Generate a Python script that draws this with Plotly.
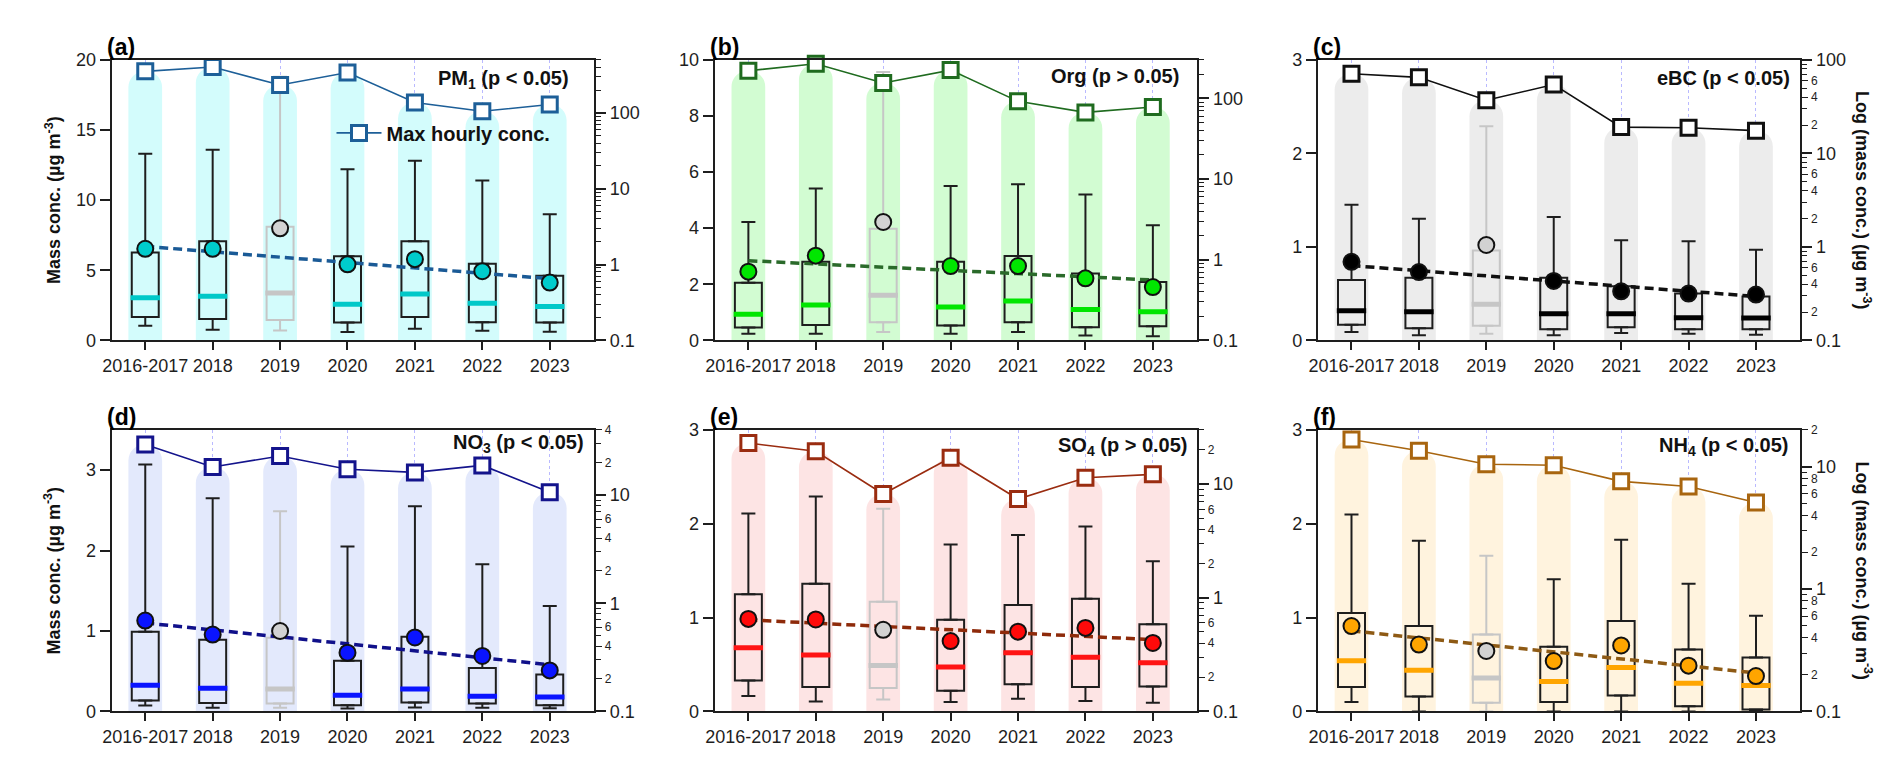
import math
import plotly.graph_objects as go

W, H = 1892, 766
FONT = "Liberation Sans, Arial, sans-serif"
INK = "#1e1e1e"

cats = ["2016-2017", "2018", "2019", "2020", "2021", "2022", "2023"]

# ---- (a) PM1 ----
pm1_whi = [13.3, 13.6, 18.8, 12.2, 12.8, 11.4, 9.0]
pm1_q75 = [6.27, 7.06, 8.1, 5.99, 7.06, 5.46, 4.6]
pm1_med = [3.03, 3.15, 3.38, 2.57, 3.31, 2.64, 2.41]
pm1_q25 = [1.67, 1.53, 1.46, 1.27, 1.67, 1.30, 1.27]
pm1_wlo = [1.04, 0.76, 0.70, 0.60, 0.83, 0.69, 0.62]
pm1_mean = [6.53, 6.53, 7.99, 5.42, 5.79, 4.93, 4.12]
pm1_max = [353, 402, 233, 341, 137, 105, 129]
pm1_trend = [6.7, 4.4]

# ---- (b) Org ----
org_whi = [4.22, 5.41, 9.57, 5.50, 5.57, 5.20, 4.10]
org_q75 = [2.05, 2.80, 3.98, 2.80, 3.01, 2.38, 2.08]
org_med = [0.93, 1.26, 1.61, 1.19, 1.40, 1.10, 1.02]
org_q25 = [0.46, 0.55, 0.65, 0.53, 0.65, 0.47, 0.50]
org_wlo = [0.24, 0.24, 0.30, 0.24, 0.30, 0.17, 0.15]
org_mean = [2.45, 3.02, 4.22, 2.65, 2.65, 2.21, 1.90]
org_max = [220, 269, 155, 224, 92, 67, 78]
org_trend = [2.84, 2.15]

# ---- (c) eBC ----
ebc_whi = [1.45, 1.30, 2.29, 1.32, 1.07, 1.06, 0.97]
ebc_q75 = [0.646, 0.67, 0.96, 0.67, 0.58, 0.50, 0.47]
ebc_med = [0.316, 0.305, 0.385, 0.285, 0.285, 0.243, 0.24]
ebc_q25 = [0.167, 0.13, 0.155, 0.12, 0.14, 0.12, 0.12]
ebc_wlo = [0.09, 0.055, 0.07, 0.055, 0.08, 0.07, 0.06]
ebc_mean = [0.84, 0.73, 1.02, 0.635, 0.524, 0.50, 0.49]
ebc_max = [71, 65, 37, 54.5, 19.1, 18.8, 17.5]
ebc_trend = [0.80, 0.47]

# ---- (d) NO3 ----
no3_whi = [3.07, 2.65, 2.49, 2.05, 2.55, 1.83, 1.31]
no3_q75 = [0.99, 0.89, 0.915, 0.63, 0.93, 0.54, 0.46]
no3_med = [0.324, 0.288, 0.28, 0.20, 0.28, 0.19, 0.18]
no3_q25 = [0.137, 0.105, 0.097, 0.077, 0.11, 0.097, 0.077]
no3_wlo = [0.073, 0.045, 0.045, 0.036, 0.049, 0.045, 0.04]
no3_mean = [1.13, 0.956, 1.00, 0.73, 0.92, 0.69, 0.51]
no3_max = [29.3, 18.2, 23.0, 17.3, 16.2, 18.8, 10.6]
no3_trend = [1.10, 0.58]

# ---- (e) SO4 ----
so4_whi = [2.11, 2.29, 2.16, 1.78, 1.88, 1.97, 1.60]
so4_q75 = [1.25, 1.36, 1.17, 0.976, 1.135, 1.20, 0.93]
so4_med = [0.678, 0.60, 0.49, 0.474, 0.626, 0.578, 0.52]
so4_q25 = [0.33, 0.26, 0.25, 0.22, 0.29, 0.26, 0.265]
so4_wlo = [0.163, 0.107, 0.128, 0.10, 0.135, 0.11, 0.093]
so4_mean = [0.986, 0.98, 0.87, 0.75, 0.85, 0.89, 0.73]
so4_max = [23.0, 19.5, 8.2, 17.1, 7.4, 11.4, 12.2]
so4_trend = [0.976, 0.765]

# ---- (f) NH4 ----
nh4_whi = [2.10, 1.82, 1.66, 1.41, 1.83, 1.36, 1.02]
nh4_q75 = [1.05, 0.91, 0.82, 0.69, 0.965, 0.66, 0.574]
nh4_med = [0.54, 0.44, 0.356, 0.32, 0.467, 0.30, 0.277]
nh4_q25 = [0.26, 0.16, 0.093, 0.10, 0.17, 0.055, 0.02]
nh4_wlo = [0.10, 0.0, 0.0, 0.0, 0.0, 0.0, 0.0]
nh4_mean = [0.91, 0.713, 0.644, 0.537, 0.703, 0.488, 0.377]
nh4_max = [16.7, 13.5, 10.5, 10.3, 7.6, 6.9, 5.1]
nh4_trend = [0.858, 0.41]

panel_labels = ["(a)", "(b)", "(c)", "(d)", "(e)", "(f)"]
panel_titles = ["PM<sub>1</sub> (p &lt; 0.05)", "Org (p &gt; 0.05)", "eBC (p &lt; 0.05)",
                "NO<sub>3</sub> (p &lt; 0.05)", "SO<sub>4</sub> (p &gt; 0.05)", "NH<sub>4</sub> (p &lt; 0.05)"]
left_ticks = [[0, 5, 10, 15, 20], [0, 2, 4, 6, 8, 10], [0, 1, 2, 3], [0, 1, 2, 3], [0, 1, 2, 3], [0, 1, 2, 3]]
left_max = [20, 10, 3, 3.5, 3, 3]
log_top = [500, 300, 100, 40, 30, 20]
minor_labelled = [[], [], [2, 4, 6], [2, 4, 6], [2, 4, 6], [2, 4, 6, 8]]
legend_name = "Max hourly conc."
special_year = "2019"

series = [
    (pm1_whi, pm1_q75, pm1_med, pm1_q25, pm1_wlo, pm1_mean, pm1_max, pm1_trend),
    (org_whi, org_q75, org_med, org_q25, org_wlo, org_mean, org_max, org_trend),
    (ebc_whi, ebc_q75, ebc_med, ebc_q25, ebc_wlo, ebc_mean, ebc_max, ebc_trend),
    (no3_whi, no3_q75, no3_med, no3_q25, no3_wlo, no3_mean, no3_max, no3_trend),
    (so4_whi, so4_q75, so4_med, so4_q25, so4_wlo, so4_mean, so4_max, so4_trend),
    (nh4_whi, nh4_q75, nh4_med, nh4_q25, nh4_wlo, nh4_mean, nh4_max, nh4_trend),
]

# styles
c_cloud = ["#d3fcfc", "#d2fcd2", "#ececec", "#e3e9fc", "#fde4e4", "#fff3de"]
c_mean = ["#00cccc", "#00e600", "#000000", "#0a14ff", "#ff0a0a", "#ffa500"]
c_med = ["#00c8c8", "#00e600", "#000000", "#0a14ff", "#ff1414", "#ffa500"]
c_max = ["#1d5f98", "#1f6b1f", "#101010", "#14148c", "#9a2c10", "#a8650f"]
c_trend = ["#1a5a96", "#2a6a2a", "#101010", "#10108a", "#8e2a0a", "#8e5a14"]
GRAY_LINE = "#c6c6c6"
GRAY_FILL = "#d2d2d2"

cols_px = [(95, 580), (701, 1186), (1307, 1792)]
rows_px = [(43, 331), (423, 712)]
title_pos = [(557, 63), (1170, 60), (1783, 62), (572, 437), (1179, 440), (1782, 440)]

fig = go.Figure()
layout = dict(
    width=W, height=H, margin=dict(l=0, r=0, t=0, b=0),
    paper_bgcolor="white", plot_bgcolor="white",
    barmode="overlay", font=dict(family=FONT, color=INK, size=18),
    showlegend=True,
    legend=dict(x=316 / W, y=1 - 118 / H, xanchor="left", yanchor="middle",
                bgcolor="rgba(0,0,0,0)", font=dict(size=20, color="#111"),
                itemwidth=45),
    annotations=[],
)


def ref(prefix, n):
    return prefix if n == 1 else f"{prefix}{n}"


def key(prefix, n):
    return f"{prefix}axis" if n == 1 else f"{prefix}axis{n}"


for i in range(6):
    whi, q75, med, q25, wlo, mean, mx, trend = series[i]
    r, c = divmod(i, 3)
    l_px, r_px = cols_px[c]
    t_px, b_px = rows_px[r]
    xn = i + 1
    ya_n, yb_n, yc_n = 3 * i + 1, 3 * i + 2, 3 * i + 3
    xr = ref("x", xn)
    yar, ybr, ycr = ref("y", ya_n), ref("y", yb_n), ref("y", yc_n)

    norm = [j for j, cc in enumerate(cats) if cc != special_year]
    spec = [j for j, cc in enumerate(cats) if cc == special_year]

    # cloud of hourly data (log axis)
    base = 0.05
    fig.add_trace(go.Bar(
        x=cats, y=[m - base for m in mx], base=base, width=0.5,
        marker=dict(color=c_cloud[i], cornerradius=16, line=dict(width=0)),
        xaxis=xr, yaxis=yar, showlegend=False, hoverinfo="skip"))

    # max hourly line (log axis, top overlay)
    fig.add_trace(go.Scatter(
        x=cats, y=mx, mode="lines+markers", name="<b>" + legend_name + "</b>",
        line=dict(color=c_max[i], width=1.6),
        marker=dict(symbol="square", size=15, color="white",
                    line=dict(color=c_max[i], width=3)),
        xaxis=xr, yaxis=ycr, showlegend=(i == 0), cliponaxis=False))

    # boxes
    fig.add_trace(go.Bar(
        x=cats, y=[a - b for a, b in zip(q75, q25)], base=q25, width=0.4,
        marker=dict(color=c_cloud[i],
                    line=dict(color=[GRAY_LINE if cc == special_year else INK for cc in cats], width=2)),
        xaxis=xr, yaxis=ybr, showlegend=False, hoverinfo="skip"))

    # whiskers
    for idx, col in ((norm, INK), (spec, GRAY_LINE)):
        xs = [cats[j] for j in idx] * 2
        ys = [q75[j] for j in idx] + [q25[j] for j in idx]
        up = [whi[j] - q75[j] for j in idx] + [0] * len(idx)
        dn = [0] * len(idx) + [q25[j] - wlo[j] for j in idx]
        fig.add_trace(go.Scatter(
            x=xs, y=ys, mode="markers", marker=dict(size=1, color="rgba(0,0,0,0)"),
            error_y=dict(type="data", symmetric=False, array=up, arrayminus=dn,
                         color=col, thickness=2, width=7),
            xaxis=xr, yaxis=ybr, showlegend=False, hoverinfo="skip"))

    # trend line
    fig.add_trace(go.Scatter(
        x=[cats[0], cats[-1]], y=trend, mode="lines",
        line=dict(color=c_trend[i], width=3.5, dash="9px,5px"),
        xaxis=xr, yaxis=ybr, showlegend=False, hoverinfo="skip"))

    # medians
    fig.add_trace(go.Scatter(
        x=cats, y=med, mode="markers",
        marker=dict(symbol="line-ew", size=21,
                    line=dict(width=5, color=[GRAY_LINE if cc == special_year else c_med[i] for cc in cats])),
        xaxis=xr, yaxis=ybr, showlegend=False, hoverinfo="skip"))

    # means
    fig.add_trace(go.Scatter(
        x=cats, y=mean, mode="markers",
        marker=dict(symbol="circle", size=16,
                    color=[GRAY_FILL if cc == special_year else c_mean[i] for cc in cats],
                    line=dict(color="#111", width=2)),
        xaxis=xr, yaxis=ybr, showlegend=False, hoverinfo="skip", cliponaxis=False))

    # ---- axes ----
    xdom = [l_px / W, r_px / W]
    ydom = [1 - b_px / H, 1 - t_px / H]
    top = log_top[i]
    lo_e, hi_e = -1, math.log10(top)
    decades = [10.0 ** k for k in range(-1, 4) if 10.0 ** k <= top * 1.0001]
    dec_txt = [("%g" % v) for v in decades]
    lab_minor = [m * d for d in decades for m in minor_labelled[i] if m * d <= top * 1.0001]
    unlab_minor = [m * d for d in decades for m in range(2, 10)
                   if m not in minor_labelled[i] and m * d <= top * 1.0001]

    layout[key("x", xn)] = dict(
        domain=xdom, anchor=yar, type="category", range=[-0.5, 6.66],
        ticks="outside", ticklen=8, tickwidth=1.6, tickcolor=INK, tickangle=0,
        showline=True, linecolor=INK, linewidth=2, mirror=True,
        showgrid=True, gridcolor="#b9b9ff", griddash="dot", gridwidth=1,
        tickfont=dict(size=18, color=INK), zeroline=False)
    layout[key("y", ya_n)] = dict(
        domain=ydom, anchor=xr, side="right", type="log", range=[lo_e, hi_e],
        tickmode="array", tickvals=decades, ticktext=dec_txt,
        ticks="outside", ticklen=10, tickwidth=1.6, tickcolor=INK,
        showline=True, linecolor=INK, linewidth=2, showgrid=False, zeroline=False,
        tickfont=dict(size=18, color=INK),
        minor=dict(tickmode="array", tickvals=unlab_minor, ticks="outside",
                   ticklen=5, tickwidth=1.3, tickcolor=INK, showgrid=False))
    layout[key("y", yb_n)] = dict(
        overlaying=yar, anchor=xr, side="left", range=[0, left_max[i]],
        tickmode="array", tickvals=left_ticks[i],
        ticks="outside", ticklen=10, tickwidth=1.6, tickcolor=INK,
        showline=True, linecolor=INK, linewidth=2, showgrid=False, zeroline=False,
        tickfont=dict(size=18, color=INK))
    layout[key("y", yc_n)] = dict(
        overlaying=yar, anchor=xr, side="right", type="log", range=[lo_e, hi_e],
        tickmode="array", tickvals=lab_minor, ticktext=[("%g" % (v / 10 ** math.floor(math.log10(v) + 1e-9))) for v in lab_minor],
        ticks="outside" if lab_minor else "", ticklen=7, tickwidth=1.4, tickcolor=INK,
        showticklabels=bool(lab_minor),
        showline=False, showgrid=False, zeroline=False,
        tickfont=dict(size=12, color=INK))

    # annotations
    layout["annotations"].append(dict(
        text="<b>" + panel_labels[i] + "</b>", x=(l_px - 7) / W, y=1 - (t_px - 13) / H,
        xref="paper", yref="paper", xanchor="left", yanchor="middle", showarrow=False,
        font=dict(size=23, color="#000")))
    tx, ty = title_pos[i]
    layout["annotations"].append(dict(
        text="<b>" + panel_titles[i] + "</b>", x=tx / W, y=1 - ty / H,
        xref="paper", yref="paper", xanchor="right", yanchor="middle", showarrow=False,
        font=dict(size=20, color="#111")))

for r in range(2):
    t_px, b_px = rows_px[r]
    ymid = 1 - (t_px + b_px) / 2 / H
    layout["annotations"].append(dict(
        text="<b>Mass conc. (µg m<sup>-3</sup>)</b>", x=36 / W, y=ymid,
        xref="paper", yref="paper", xanchor="center", yanchor="middle", showarrow=False,
        textangle=-90, font=dict(size=18, color="#111")))
    layout["annotations"].append(dict(
        text="<b>Log (mass conc.) (µg m<sup>-3</sup>)</b>", x=1855 / W, y=ymid,
        xref="paper", yref="paper", xanchor="center", yanchor="middle", showarrow=False,
        textangle=90, font=dict(size=18, color="#111")))

fig.update_layout(**layout)
fig.write_html("out.html")
